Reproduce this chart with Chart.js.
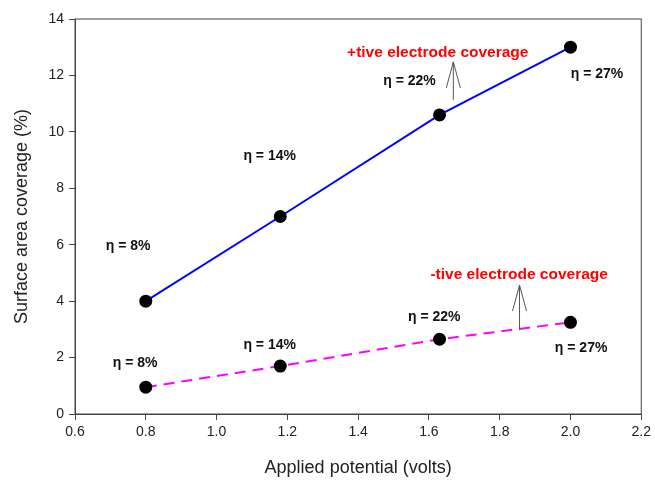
<!DOCTYPE html>
<html>
<head>
<meta charset="utf-8">
<script src="https://cdn.jsdelivr.net/npm/chart.js@4"></script>
<style>
    html, body { margin: 0; padding: 0; background: #fff; }
    #wrap { width: 655px; height: 482px; }
</style>
</head>
<body>
<div id="wrap"><canvas id="coverageChart" width="655" height="482"></canvas></div>
<script>
// applied potential (volts)
const potential = [0.8, 1.18, 1.63, 2.0];
// surface area coverage (%)
const positiveCoverage = [4.0, 7.0, 10.6, 13.0];
const negativeCoverage = [0.95, 1.7, 2.65, 3.25];
const efficiencyLabels = ["η = 8%", "η = 14%", "η = 22%", "η = 27%"];

// where the labels sit, in data units
const positiveLabelPos = [[0.75, 5.95], [1.15, 9.15], [1.545, 11.8], [2.075, 12.05]];
const negativeLabelPos = [[0.77, 1.8], [1.15, 2.45], [1.615, 3.45], [2.03, 2.35]];

const seriesNotes = [
    { text: "+tive electrode coverage", x: 1.625, y: 12.8, arrowX: 1.669, from: 11.13, to: 12.48 },
    { text: "-tive electrode coverage", x: 1.855, y: 4.93, arrowX: 1.856, from: 2.98, to: 4.57 },
];

function toPoints(xs, ys) {
    return xs.map((x, i) => ({ x: x, y: ys[i] }));
}

//======================[annotations plugin]======================
const notesPlugin = {
    id: "notes",
    afterDatasetsDraw(chart) {
        const ctx = chart.ctx;
        const xs = chart.scales.x;
        const ys = chart.scales.y;
        const area = chart.chartArea;

        ctx.save();
        // frame on all four sides
        ctx.strokeStyle = "#444";
        ctx.lineWidth = 1;
        ctx.strokeRect(area.left, area.top, area.right - area.left, area.bottom - area.top);

        ctx.fillStyle = "#111";
        ctx.font = "bold 14px 'Liberation Sans', Arial, sans-serif";
        ctx.textAlign = "center";
        ctx.textBaseline = "middle";
        efficiencyLabels.forEach((label, i) => {
            const p = positiveLabelPos[i];
            const n = negativeLabelPos[i];
            ctx.fillText(label, xs.getPixelForValue(p[0]), ys.getPixelForValue(p[1]));
            ctx.fillText(label, xs.getPixelForValue(n[0]), ys.getPixelForValue(n[1]));
        });

        seriesNotes.forEach((note) => {
            ctx.fillStyle = "#ff0000";
            ctx.font = "bold 15.5px 'Liberation Sans', Arial, sans-serif";
            ctx.fillText(note.text, xs.getPixelForValue(note.x), ys.getPixelForValue(note.y));

            const ax = xs.getPixelForValue(note.arrowX);
            const y0 = ys.getPixelForValue(note.from);
            const y1 = ys.getPixelForValue(note.to);
            ctx.strokeStyle = "#555";
            ctx.lineWidth = 1;
            ctx.beginPath();
            ctx.moveTo(ax, y0);
            ctx.lineTo(ax, y1);
            ctx.moveTo(ax - 7, y1 + 26);
            ctx.lineTo(ax, y1);
            ctx.lineTo(ax + 7, y1 + 26);
            ctx.stroke();
        });
        ctx.restore();
    },
};

const tickFont = { family: "'Liberation Sans', Arial, sans-serif", size: 14 };
const titleFont = { family: "'Liberation Sans', Arial, sans-serif", size: 18 };

new Chart(document.getElementById("coverageChart"), {
    type: "scatter",
    data: {
        datasets: [
            {
                label: "+tive electrode coverage",
                data: toPoints(potential, positiveCoverage),
                showLine: true,
                borderColor: "#0000ff",
                borderWidth: 2,
                pointRadius: 5.5,
                pointBackgroundColor: "#000",
                pointBorderColor: "#000",
                tension: 0,
            },
            {
                label: "-tive electrode coverage",
                data: toPoints(potential, negativeCoverage),
                showLine: true,
                borderColor: "#ff00ff",
                borderWidth: 2,
                borderDash: [11, 7],
                pointRadius: 5.5,
                pointBackgroundColor: "#000",
                pointBorderColor: "#000",
                tension: 0,
            },
        ],
    },
    options: {
        responsive: false,
        animation: false,
        layout: { padding: { top: 19, right: 13, bottom: 0, left: 0 } },
        plugins: {
            legend: { display: false },
            tooltip: { enabled: false },
        },
        scales: {
            x: {
                type: "linear",
                min: 0.6,
                max: 2.2,
                afterFit: (scale) => { scale.height = 68; },
                ticks: {
                    stepSize: 0.2,
                    color: "#222",
                    font: tickFont,
                    padding: 4,
                    callback: (v) => v.toFixed(1),
                },
                grid: { drawOnChartArea: false, tickLength: 6, color: "#444", tickColor: "#444" },
                border: { color: "#444" },
                title: { display: true, text: "Applied potential (volts)", color: "#222", font: titleFont, padding: { top: 14, bottom: 3 } },
            },
            y: {
                type: "linear",
                min: 0,
                max: 14,
                afterFit: (scale) => { scale.width = 75; },
                ticks: {
                    stepSize: 2,
                    color: "#222",
                    font: tickFont,
                    padding: 5,
                },
                grid: { drawOnChartArea: false, tickLength: 6, color: "#444", tickColor: "#444" },
                border: { color: "#444" },
                title: { display: true, text: "Surface area coverage (%)", color: "#222", font: titleFont, padding: { top: 11, bottom: 4 } },
            },
        },
    },
    plugins: [notesPlugin],
});
</script>
</body>
</html>
